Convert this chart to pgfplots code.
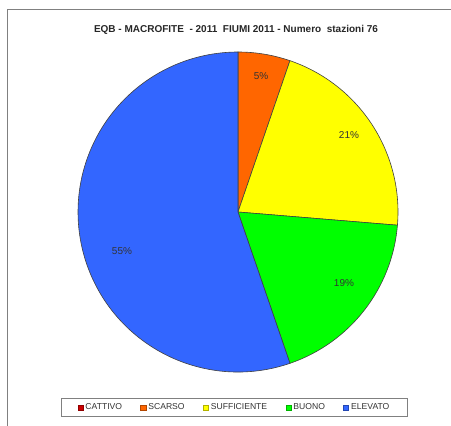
\documentclass[border=0pt]{standalone}
\usepackage{pgfplots}
\pgfplotsset{compat=1.18}
\usepackage{fontspec}
\setmainfont{Liberation Sans}
\definecolor{cattivo}{HTML}{CC0000}
\definecolor{scarso}{HTML}{FF6600}
\definecolor{sufficiente}{HTML}{FFFF00}
\definecolor{buono}{HTML}{00FF00}
\definecolor{elevato}{HTML}{3366FF}
\definecolor{lbl}{HTML}{333333}
\definecolor{frame}{HTML}{808080}

% number of stations per class (total 76)
\def\nCattivo{0}
\def\nScarso{4}
\def\nSuff{16}
\def\nBuono{14}
\def\nElevato{42}
\pgfmathsetmacro\tot{\nCattivo+\nScarso+\nSuff+\nBuono+\nElevato}
\pgfmathsetmacro\aA{90-360*\nCattivo/\tot}
\pgfmathsetmacro\aB{\aA-360*\nScarso/\tot}
\pgfmathsetmacro\aC{\aB-360*\nSuff/\tot}
\pgfmathsetmacro\aD{\aC-360*\nBuono/\tot}
\pgfmathsetmacro\aE{\aD-360*\nElevato/\tot}

\begin{document}
\begin{tikzpicture}
\path[use as bounding box] (0,0) rectangle (451pt,426pt);
\draw[frame, line width=1pt] (7pt,-10pt) -- (7pt,416pt) -- (470pt,416pt);
\begin{axis}[
  at={(0,0)}, anchor=south west, scale only axis,
  width=451pt, height=426pt,
  xmin=0, xmax=451, ymin=0, ymax=426,
  hide axis, clip=false,
  legend columns=5,
  legend style={at={(axis cs:234.5,18.5)}, anchor=center,
    draw=frame, line width=0.9pt, fill=white,
    font=\fontsize{8.6}{10}\selectfont, text=black!80,
    inner xsep=16pt, inner ysep=3.5pt,
    /tikz/every even column/.append style={column sep=16.3pt},
    /tikz/every odd column/.append style={column sep=0pt}},
  legend image code/.code={\draw[#1, line width=0.7pt] (0pt,-2.6pt) rectangle (5.2pt,2.6pt);},
]
\addlegendimage{fill=cattivo, draw=cattivo!70!black}
\addlegendentry{CATTIVO}
\addlegendimage{fill=scarso, draw=scarso!70!black}
\addlegendentry{SCARSO}
\addlegendimage{fill=sufficiente, draw=sufficiente!70!black}
\addlegendentry{SUFFICIENTE}
\addlegendimage{fill=buono, draw=buono!70!black}
\addlegendentry{BUONO}
\addlegendimage{fill=elevato, draw=elevato!70!black}
\addlegendentry{ELEVATO}

\filldraw[fill=scarso, draw=black!75, line width=0.6pt] (axis cs:238,214) -- ++(\aA:160pt) arc[start angle=\aA, end angle=\aB, radius=160pt] -- cycle;
\filldraw[fill=sufficiente, draw=black!75, line width=0.6pt] (axis cs:238,214) -- ++(\aB:160pt) arc[start angle=\aB, end angle=\aC, radius=160pt] -- cycle;
\filldraw[fill=buono, draw=black!75, line width=0.6pt] (axis cs:238,214) -- ++(\aC:160pt) arc[start angle=\aC, end angle=\aD, radius=160pt] -- cycle;
\filldraw[fill=elevato, draw=black!75, line width=0.6pt] (axis cs:238,214) -- ++(\aD:160pt) arc[start angle=\aD, end angle=\aE, radius=160pt] -- cycle;

\node[text=lbl, font=\fontsize{10}{12}\selectfont] at (axis cs:261,350) {5\%};
\node[text=lbl, font=\fontsize{10}{12}\selectfont] at (axis cs:349,291) {21\%};
\node[text=lbl, font=\fontsize{10}{12}\selectfont] at (axis cs:344,143) {19\%};
\node[text=lbl, font=\fontsize{10}{12}\selectfont] at (axis cs:122,175) {55\%};

\node[font=\bfseries\fontsize{10}{12}\selectfont, text=black!85] at (axis cs:236,396) {EQB - MACROFITE\ \ - 2011\ \ FIUMI 2011 - Numero\ \ stazioni 76};
\end{axis}
\end{tikzpicture}
\end{document}
